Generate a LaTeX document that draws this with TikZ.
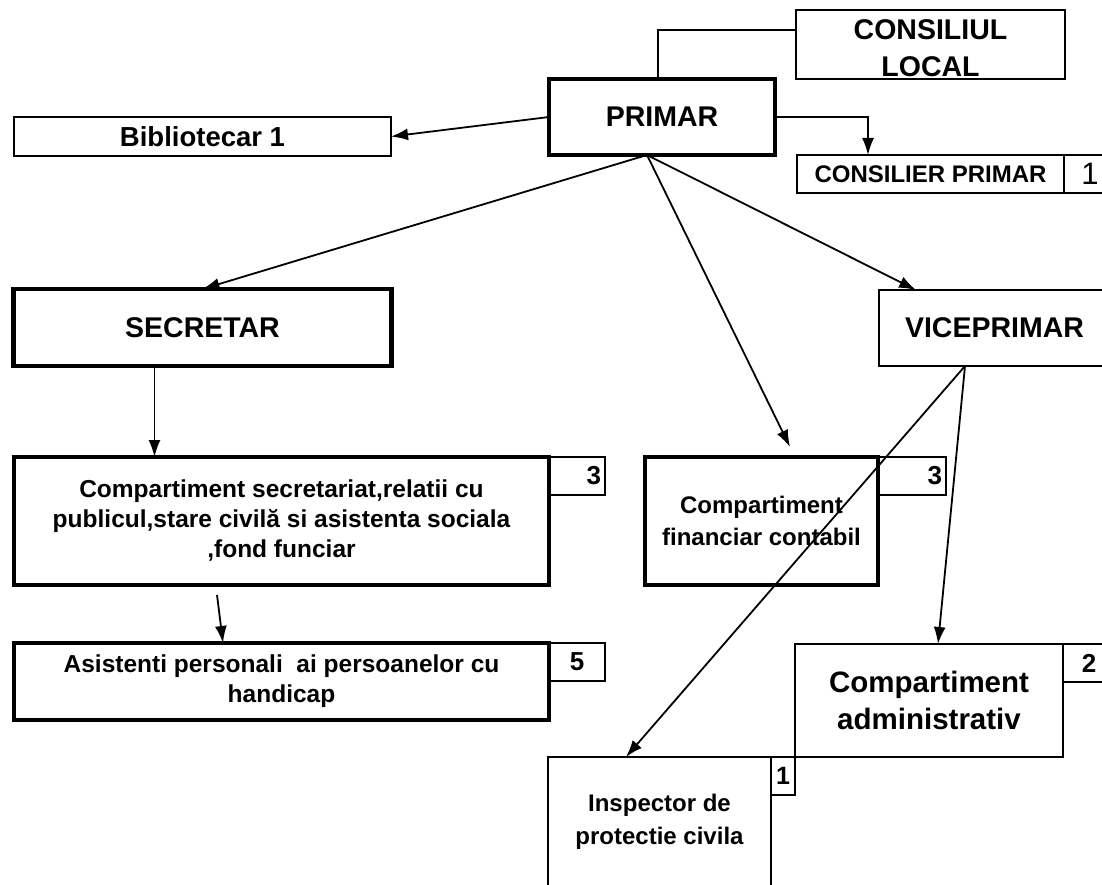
\documentclass[tikz,border=0pt]{standalone}
\usepackage{fontspec}
\setmainfont{Liberation Sans}
\usetikzlibrary{positioning,arrows.meta}
\tikzset{box/.style={draw,line width=1.8pt,inner sep=0pt,outer sep=0pt,align=center},
	 boldbox/.style={box,line width=4.5pt},
	 numbox/.style={draw,line width=1.8pt,inner sep=4pt,outer sep=0pt,minimum height=38pt,
	   font=\bfseries\fontsize{26}{30}\selectfont},
	 bigtext/.style={font=\bfseries\fontsize{28.5}{37}\selectfont},
	 midtext/.style={font=\bfseries\fontsize{24.5}{30}\selectfont},
	 link/.style={line width=1.8pt},
	 >={Latex[length=17pt,width=12pt]}
	 }

\begin{document}
\begin{tikzpicture}[x=1pt,y=-1pt]
	\fill[white] (0,0) rectangle (1102,885);
	\useasboundingbox (0,0) rectangle (1102,885);

	\node[boldbox,bigtext,minimum width=226pt,minimum height=76pt] (primar) at (662,117) {PRIMAR};
	\node[box,bigtext,text height=65pt,minimum width=269pt,minimum height=69pt] (consiliu) at (930.5,44.5) {CONSILIUL\\LOCAL};
	\node[box,font=\bfseries\fontsize{27.5}{33}\selectfont,minimum width=377pt,minimum height=39pt] (biblio) at (202.5,136.5) {Bibliotecar 1};
	\node[box,font=\bfseries\fontsize{24}{30}\selectfont,minimum width=267pt,minimum height=38pt] (consilier) at (930.5,174) {CONSILIER PRIMAR};
	\node[box,font=\fontsize{31}{34}\selectfont,minimum width=52pt,minimum height=38pt] (consiliern) [below right=0pt and 0pt of consilier.north east] {1};
	\node[boldbox,bigtext,minimum width=378pt,minimum height=77pt] (secretar) at (202.5,327.5) {SECRETAR};
	\node[box,bigtext,minimum width=231pt,minimum height=76pt] (vice) at (994.5,328) {VICEPRIMAR};

	\node[boldbox,midtext,minimum width=535pt,minimum height=128pt] (secr) at (281.5,521) {Compartiment secretariat,relatii cu\\publicul,stare civilă si asistenta sociala\\,fond funciar};
	\node[numbox,text width=48pt,align=right] (secrn) [below right=0pt and 0pt of secr.north east] {3};
	\node[boldbox,font=\bfseries\fontsize{24}{32}\selectfont,minimum width=233pt,minimum height=128pt] (fin) at (761.5,521) {Compartiment\\financiar contabil};
	\node[numbox,text width=60pt,align=right] (finn) [below right=0pt and 0pt of fin.north east] {3};
	\node[boldbox,midtext,minimum width=535pt,minimum height=77pt] (asist) at (281.5,681.5) {Asistenti personali\ \ ai persoanelor cu\\handicap};
	\node[numbox,minimum width=56pt] (asistn) [below right=0pt and 0pt of asist.north east] {5};
	\node[box,font=\bfseries\fontsize{29.5}{37}\selectfont,minimum width=268pt,minimum height=113pt] (admin) at (929,700.5) {Compartiment\\administrativ};
	\node[numbox,minimum width=52pt] (adminn) [below right=0pt and 0pt of admin.north east] {2};
	\node[box,font=\bfseries\fontsize{24}{33}\selectfont,minimum width=223pt,minimum height=129pt] (insp) at (659.5,821.5) {Inspector de\\protectie civila};
	\node[numbox,inner sep=2pt,minimum width=24pt,font=\bfseries\fontsize{25}{28}\selectfont] (inspn) [below right=0pt and 0pt of insp.north east] {1};

	\coordinate (pbot) at ([xshift=-15pt]primar.south);
	\coordinate (vbot) at ([xshift=-29.5pt]vice.south);

	\draw[link] ([xshift=-4pt]primar.north) |- ([yshift=14.5pt]consiliu.west);
	\draw[link,->] (primar.east) -| ([xshift=-62.5pt]consilier.north);
	\draw[link,->] (primar.west) -- (biblio.east);
	\draw[link,->] (pbot) -- (secretar.north); \draw[link,->] (pbot) -- ([xshift=28.5pt,yshift=10pt]fin.north);
	\draw[link,->] (pbot) -- ([xshift=37pt]vice.north west);
	\draw[link,->] ([xshift=-48pt]secretar.south) -- ([xshift=-48pt]secretar.south |- secr.north);
	\draw[link,->] ([xshift=-64.5pt,yshift=-10pt]secr.south) -- ([xshift=-58.5pt]asist.north);
	\draw[link,->] (vbot) -- ([xshift=9pt]admin.north); \draw[link,->] (vbot) -- ([xshift=-33.5pt]insp.north);
\end{tikzpicture}
\end{document}
